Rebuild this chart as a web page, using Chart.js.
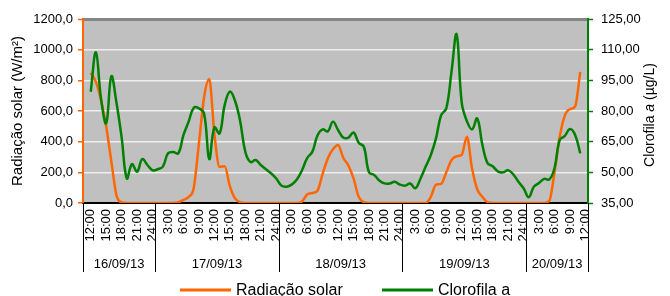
<!DOCTYPE html>
<html>
<head>
<meta charset="utf-8">
<script src="https://cdn.jsdelivr.net/npm/chart.js@4.4.1/dist/chart.umd.min.js"></script>
<style>
  body { margin: 0; background: #fff; }
  #wrap { width: 670px; height: 296px; }
</style>
</head>
<body>
<div id="wrap"><canvas id="chart" width="670" height="296"></canvas></div>
<script>
// hourly readings from 12:00 16/09/13 (index 0) to 11:00 20/09/13
const radiacao = [848, 790, 670, 500, 270, 50, 5, 0, 0, 0,
  0, 0, 0, 0, 0, 0, 0, 5, 20, 40,
  100, 390, 690, 808, 450, 235, 240, 110, 30, 5,
  0, 0, 0, 0, 0, 0, 0, 0, 0, 0,
  0, 10, 55, 65, 80, 190, 290, 350, 378, 295,
  245, 160, 40, 5, 0, 0, 0, 0, 0, 0,
  0, 0, 0, 0, 0, 0, 40, 120, 125, 200,
  280, 305, 315, 432, 225, 90, 40, 5, 0, 0,
  0, 0, 0, 0, 0, 0, 0, 0, 0, 15,
  200, 430, 570, 612, 630, 855];

const clorofila = [89.4, 108.7, 86, 74, 97, 84, 67, 47, 54, 50.3,
  56.5, 53.6, 51, 51.5, 52.8, 59.3, 60, 59.3, 68.3, 74.8,
  81.6, 81.3, 78.8, 56.5, 72, 69, 83, 89.5, 85, 75,
  60, 55, 56, 53.6, 51.5, 49.5, 47, 43.5, 43, 44,
  46.5, 51, 57, 60, 68, 71, 70, 74.8, 70.7, 67,
  67, 69.5, 64.5, 62.5, 50, 48.7, 46, 44.6, 44.5, 45.4,
  44, 43.5, 44.5, 42.2, 47, 52.8, 58.5, 66.6, 78, 81.3,
  99, 117.5, 84, 75, 71, 76.4, 63.5, 54.5, 53, 50.5,
  50, 51, 49, 45.4, 42.2, 37.8, 43, 44.8, 46.8, 46.5,
  52, 65.8, 67.8, 71.2, 68.3, 59.3];

// one label every 3 hours
const tickLabels = ['12:00', '15:00', '18:00', '21:00', '24:00',
  '3:00', '6:00', '9:00', '12:00', '15:00', '18:00', '21:00', '24:00',
  '3:00', '6:00', '9:00', '12:00', '15:00', '18:00', '21:00', '24:00',
  '3:00', '6:00', '9:00', '12:00', '15:00', '18:00', '21:00', '24:00',
  '3:00', '6:00', '9:00', '12:00'];

const dayLabels = ['16/09/13', '17/09/13', '18/09/13', '19/09/13', '20/09/13'];
const dayBounds = [-1.5, 12.5, 36.5, 60.5, 84.5, 96.5];

const FONT = "'Liberation Sans', Arial, sans-serif";
Chart.defaults.font.family = FONT;
Chart.defaults.color = '#000';

const frame = {
  id: 'frame',
  beforeDraw(chart) {
    const { ctx, chartArea: a } = chart;
    ctx.save();
    ctx.fillStyle = '#C0C0C0';
    ctx.fillRect(a.left, a.top, a.right - a.left, a.bottom - a.top);
    ctx.restore();
  },
  afterDraw(chart) {
    const { ctx, chartArea: a, scales: { x } } = chart;
    ctx.save();

    // day group separators + labels
    ctx.strokeStyle = '#000';
    ctx.lineWidth = 1;
    dayBounds.forEach(b => {
      const px = Math.round(x.getPixelForValue(b)) + 0.5;
      ctx.beginPath();
      ctx.moveTo(px, a.bottom);
      ctx.lineTo(px, 272);
      ctx.stroke();
    });
    ctx.font = '13px ' + FONT;
    ctx.fillStyle = '#000';
    ctx.textAlign = 'center';
    ctx.textBaseline = 'middle';
    dayLabels.forEach((d, i) => {
      const mid = (dayBounds[i] + dayBounds[i + 1]) / 2;
      ctx.fillText(d, x.getPixelForValue(mid), 264);
    });

    // legend
    ctx.font = '16px ' + FONT;
    ctx.textAlign = 'left';
    ctx.textBaseline = 'alphabetic';
    ctx.lineWidth = 3;
    chart.data.datasets.forEach((ds, i) => {
      const x0 = i === 0 ? 180 : 382;
      ctx.strokeStyle = ds.borderColor;
      ctx.beginPath();
      ctx.moveTo(x0, 290);
      ctx.lineTo(x0 + 51, 290);
      ctx.stroke();
      ctx.fillText(ds.label, x0 + 56, 295);
    });

    // right axis title, with italic "a"
    const parts = [['Clorofila ', ''], ['a', 'italic '], [' (µg/L)', '']];
    ctx.translate(650, 115);
    ctx.rotate(-Math.PI / 2);
    let total = 0;
    parts.forEach(p => { ctx.font = p[1] + '14px ' + FONT; total += ctx.measureText(p[0]).width; });
    let cx = -total / 2;
    ctx.textBaseline = 'middle';
    parts.forEach(p => {
      ctx.font = p[1] + '14px ' + FONT;
      ctx.fillText(p[0], cx, 0);
      cx += ctx.measureText(p[0]).width;
    });
    ctx.restore();
  }
};

new Chart(document.getElementById('chart'), {
  type: 'line',
  data: {
    datasets: [
      {
        label: 'Radiação solar',
        data: radiacao.map((v, i) => ({ x: i, y: v })),
        yAxisID: 'y',
        borderColor: '#FF6600',
        borderWidth: 2.5,
        pointRadius: 0,
        cubicInterpolationMode: 'monotone',
        order: 1
      },
      {
        label: 'Clorofila a',
        data: clorofila.map((v, i) => ({ x: i, y: v })),
        yAxisID: 'y2',
        borderColor: '#008000',
        borderWidth: 2.5,
        pointRadius: 0,
        tension: 0.4,
        order: 0
      }
    ]
  },
  options: {
    responsive: false,
    animation: false,
    layout: { padding: { top: 19, left: 0, right: 0, bottom: 0 } },
    plugins: { legend: { display: false }, tooltip: { enabled: false } },
    scales: {
      x: {
        type: 'linear',
        min: -1.5,
        max: 96.5,
        grid: { display: false, drawTicks: false },
        border: { color: '#000', width: 2 },
        ticks: {
          autoSkip: false, maxRotation: 90, minRotation: 90, padding: 6,
          font: { size: 13 },
          callback: v => tickLabels[v / 3]
        },
        afterBuildTicks: s => { s.ticks = tickLabels.map((t, i) => ({ value: i * 3 })); },
        afterFit: s => { s.height = 93; }
      },
      y: {
        position: 'left',
        min: 0,
        max: 1200,
        ticks: {
          stepSize: 200, padding: 5, font: { size: 13 },
          callback: v => v.toFixed(1).replace('.', ',')
        },
        grid: {
          color: c => c.tick.value === 1200 ? '#858585' : (c.tick.value === 0 ? 'rgba(0,0,0,0)' : '#EEEEEE'),
          lineWidth: c => c.tick.value === 1200 ? 3 : 1.5,
          tickColor: '#FF6600', tickLength: 5, tickWidth: 1.5
        },
        border: { color: '#FF6600', width: 2 },
        title: { display: true, text: 'Radiação solar (W/m²)', font: { size: 15 }, padding: { top: 9, bottom: 0 } },
        afterFit: s => { s.width = 83; }
      },
      y2: {
        position: 'right',
        min: 35,
        max: 125,
        ticks: {
          stepSize: 15, padding: 8, font: { size: 13 },
          callback: v => v.toFixed(2).replace('.', ',')
        },
        grid: { drawOnChartArea: false, tickColor: '#008000', tickLength: 5, tickWidth: 1.5 },
        border: { color: '#008000', width: 2 },
        afterFit: s => { s.width = 82; }
      }
    }
  },
  plugins: [frame]
});
</script>
</body>
</html>
